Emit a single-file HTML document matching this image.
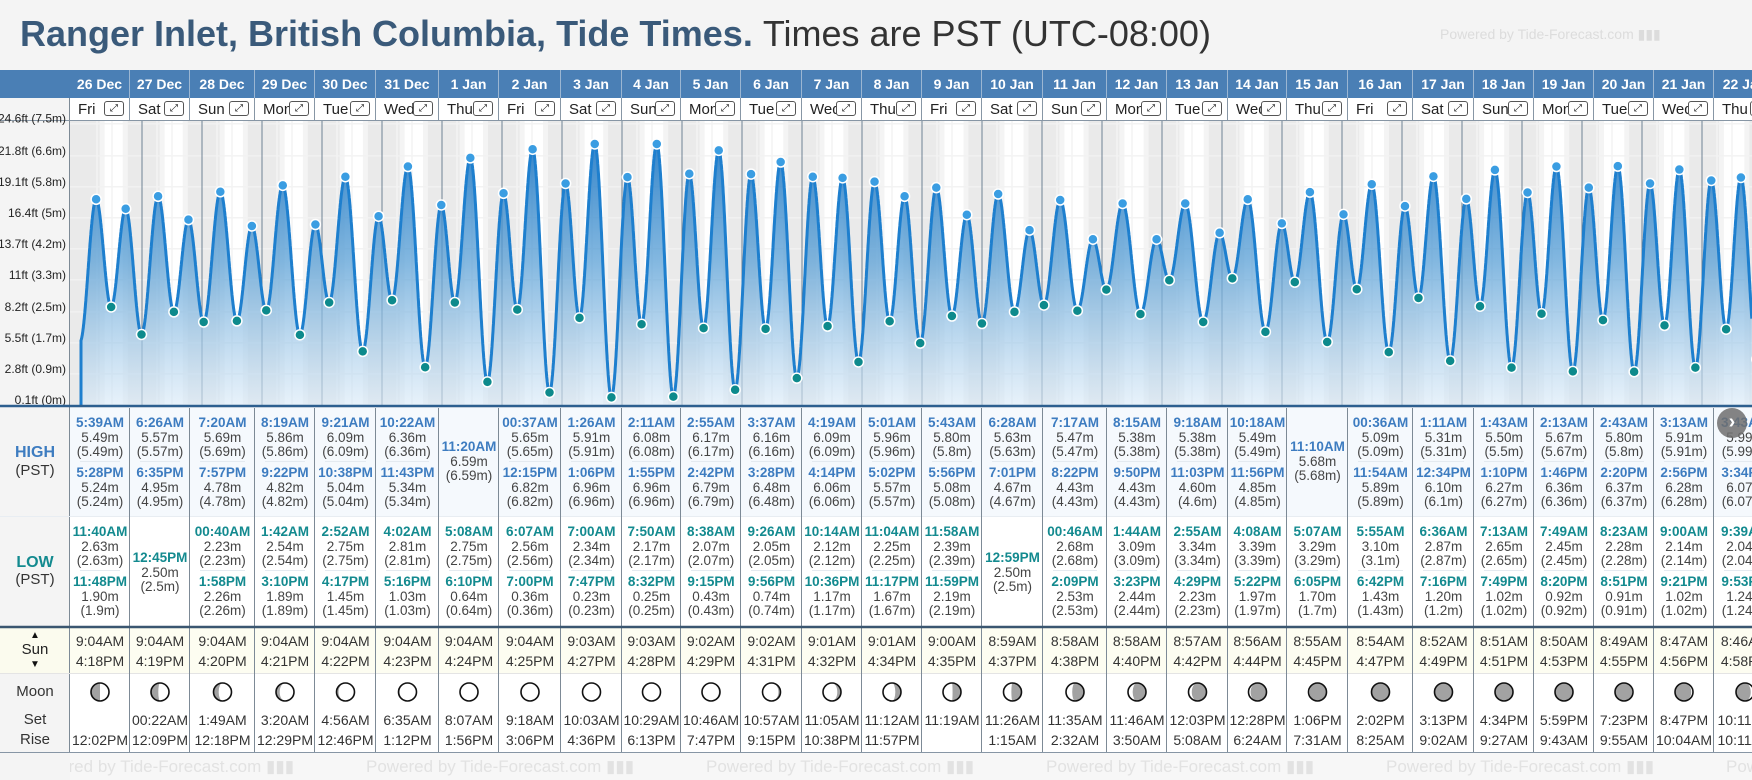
<!DOCTYPE html>
<html><head><meta charset="utf-8">
<style>
body{margin:0;width:1752px;height:780px;overflow:hidden;background:#f4f4f4;font-family:"Liberation Sans",Arial,sans-serif;position:relative}
.a{position:absolute;white-space:nowrap}
.c{position:absolute;text-align:center;white-space:nowrap;font-size:13.5px;line-height:14px;color:#444}
.tH{color:#3d7cc0;font-weight:bold}
.tL{color:#138a8f;font-weight:bold}
</style></head><body>
<div class="a" style="left:20px;top:13px;font-size:36px;color:#3a5a7a;font-weight:bold">Ranger Inlet, British Columbia, Tide Times. <span style="font-weight:normal;color:#333">Times are PST (UTC-08:00)</span></div>
<div class="a" style="left:1440px;top:26px;font-size:14px;color:#dcdcdc">Powered by Tide-Forecast.com ▮▮▮</div>
<svg id="chart" width="1752" height="780" style="position:absolute;left:0;top:0">
<defs>
<linearGradient id="fillg" x1="0" y1="0" x2="0" y2="1">
<stop offset="0" stop-color="#1f78c4" stop-opacity="0.9"/>
<stop offset="0.45" stop-color="#5aa0d6" stop-opacity="0.75"/>
<stop offset="1" stop-color="#d8e9f7" stop-opacity="0.6"/>
</linearGradient>
<clipPath id="clipc"><rect x="70" y="121" width="1682" height="285"/></clipPath>
</defs>
<g id="bg" clip-path="url(#clipc)"></g>
<g id="grid" clip-path="url(#clipc)"></g>
<g id="curve" clip-path="url(#clipc)"></g>
</svg>
<div id="html"></div>
<svg id="overlay" width="1752" height="780" style="position:absolute;left:0;top:0;pointer-events:none">
<g id="ylab"></g>
<g id="moons"></g>
<g id="rules"></g>
</svg>
<script>
// ---- data ----
const days=["26 Dec","27 Dec","28 Dec","29 Dec","30 Dec","31 Dec","1 Jan","2 Jan","3 Jan","4 Jan","5 Jan","6 Jan","7 Jan","8 Jan","9 Jan","10 Jan","11 Jan","12 Jan","13 Jan","14 Jan","15 Jan","16 Jan","17 Jan","18 Jan","19 Jan","20 Jan","21 Jan","22 Jan"];
const weekdays=["Fri","Sat","Sun","Mon","Tue","Wed","Thu","Fri","Sat","Sun","Mon","Tue","Wed","Thu","Fri","Sat","Sun","Mon","Tue","Wed","Thu","Fri","Sat","Sun","Mon","Tue","Wed","Thu"];
const highTimes=[["5:39AM","5:28PM"],["6:26AM","6:35PM"],["7:20AM","7:57PM"],["8:19AM","9:22PM"],["9:21AM","10:38PM"],["10:22AM","11:43PM"],["11:20AM"],["00:37AM","12:15PM"],["1:26AM","1:06PM"],["2:11AM","1:55PM"],["2:55AM","2:42PM"],["3:37AM","3:28PM"],["4:19AM","4:14PM"],["5:01AM","5:02PM"],["5:43AM","5:56PM"],["6:28AM","7:01PM"],["7:17AM","8:22PM"],["8:15AM","9:50PM"],["9:18AM","11:03PM"],["10:18AM","11:56PM"],["11:10AM"],["00:36AM","11:54AM"],["1:11AM","12:34PM"],["1:43AM","1:10PM"],["2:13AM","1:46PM"],["2:43AM","2:20PM"],["3:13AM","2:56PM"],["3:43AM","3:34PM"]];
const highValues=[[5.49,5.24],[5.57,4.95],[5.69,4.78],[5.86,4.82],[6.09,5.04],[6.36,5.34],[6.59],[5.65,6.82],[5.91,6.96],[6.08,6.96],[6.17,6.79],[6.16,6.48],[6.09,6.06],[5.96,5.57],[5.80,5.08],[5.63,4.67],[5.47,4.43],[5.38,4.43],[5.38,4.60],[5.49,4.85],[5.68],[5.09,5.89],[5.31,6.10],[5.50,6.27],[5.67,6.36],[5.80,6.37],[5.91,6.28],[5.99,6.07]];
const lowTimes=[["11:40AM","11:48PM"],["12:45PM"],["00:40AM","1:58PM"],["1:42AM","3:10PM"],["2:52AM","4:17PM"],["4:02AM","5:16PM"],["5:08AM","6:10PM"],["6:07AM","7:00PM"],["7:00AM","7:47PM"],["7:50AM","8:32PM"],["8:38AM","9:15PM"],["9:26AM","9:56PM"],["10:14AM","10:36PM"],["11:04AM","11:17PM"],["11:58AM","11:59PM"],["12:59PM"],["00:46AM","2:09PM"],["1:44AM","3:23PM"],["2:55AM","4:29PM"],["4:08AM","5:22PM"],["5:07AM","6:05PM"],["5:55AM","6:42PM"],["6:36AM","7:16PM"],["7:13AM","7:49PM"],["7:49AM","8:20PM"],["8:23AM","8:51PM"],["9:00AM","9:21PM"],["9:39AM","9:53PM"]];
const lowValues=[[2.63,1.90],[2.50],[2.23,2.26],[2.54,1.89],[2.75,1.45],[2.81,1.03],[2.75,0.64],[2.56,0.36],[2.34,0.23],[2.17,0.25],[2.07,0.43],[2.05,0.74],[2.12,1.17],[2.25,1.67],[2.39,2.19],[2.50],[2.68,2.53],[3.09,2.44],[3.34,2.23],[3.39,1.97],[3.29,1.70],[3.10,1.43],[2.87,1.20],[2.65,1.02],[2.45,0.92],[2.28,0.91],[2.14,1.02],[2.04,1.24]];
const prevDayLowTime="11:10PM", prevDayLowValue=1.70;
const sunrise=["9:04AM","9:04AM","9:04AM","9:04AM","9:04AM","9:04AM","9:04AM","9:04AM","9:03AM","9:03AM","9:02AM","9:02AM","9:01AM","9:01AM","9:00AM","8:59AM","8:58AM","8:58AM","8:57AM","8:56AM","8:55AM","8:54AM","8:52AM","8:51AM","8:50AM","8:49AM","8:47AM","8:46AM"];
const sunset=["4:18PM","4:19PM","4:20PM","4:21PM","4:22PM","4:23PM","4:24PM","4:25PM","4:27PM","4:28PM","4:29PM","4:31PM","4:32PM","4:34PM","4:35PM","4:37PM","4:38PM","4:40PM","4:42PM","4:44PM","4:45PM","4:47PM","4:49PM","4:51PM","4:53PM","4:55PM","4:56PM","4:58PM"];
const moonSet=["","00:22AM","1:49AM","3:20AM","4:56AM","6:35AM","8:07AM","9:18AM","10:03AM","10:29AM","10:46AM","10:57AM","11:05AM","11:12AM","11:19AM","11:26AM","11:35AM","11:46AM","12:03PM","12:28PM","1:06PM","2:02PM","3:13PM","4:34PM","5:59PM","7:23PM","8:47PM","10:11PM"];
const moonRise=["12:02PM","12:09PM","12:18PM","12:29PM","12:46PM","1:12PM","1:56PM","3:06PM","4:36PM","6:13PM","7:47PM","9:15PM","10:38PM","11:57PM","","1:15AM","2:32AM","3:50AM","5:08AM","6:24AM","7:31AM","8:25AM","9:02AM","9:27AM","9:43AM","9:55AM","10:04AM","10:11AM"];
const moonPhase=[0.25,0.28,0.32,0.35,0.39,0.42,0.46,0.50,0.52,0.55,0.58,0.61,0.65,0.69,0.74,0.77,0.80,0.83,0.86,0.89,0.92,0.95,0.97,0.99,0.03,0.07,0.10,0.14];
const yTickFt=[0.1,2.8,5.5,8.2,11,13.7,16.4,19.1,21.8,24.6];
const yTickLabels=["0.1ft (0m)","2.8ft (0.9m)","5.5ft (1.7m)","8.2ft (2.5m)","11ft (3.3m)","13.7ft (4.2m)","16.4ft (5m)","19.1ft (5.8m)","21.8ft (6.6m)","24.6ft (7.5m)"];

// ---- layout ----
const colEdges=[70,130,190,255,315,376,439,499,561,622,681,741,802,862,922,982,1043,1107,1167,1228,1287,1348,1413,1474,1534,1594,1654,1714,1776];
const NS="http://www.w3.org/2000/svg";
const X=t=>82+t*2.5;
const Y=m=>406-m*37.65;
function hrs(s){const m=s.match(/(\d+):(\d+)(AM|PM)/);let h=+m[1]%12;if(m[3]=="PM")h+=12;return h+(+m[2])/60;}
function S(tag,attrs,parent){const e=document.createElementNS(NS,tag);for(const k in attrs)e.setAttribute(k,attrs[k]);parent.appendChild(e);return e;}
const html=document.getElementById('html');
function D(style,text,cls){const d=document.createElement('div');d.className=cls||'a';d.setAttribute('style',style);if(text!==undefined)d.textContent=text;html.appendChild(d);return d;}

const bg=document.getElementById('bg');
S('rect',{x:70,y:121,width:1682,height:285,fill:'#eaeaea'},bg);
for(let i=-1;i<=28;i++){const k=Math.max(0,Math.min(27,i));
 const r=X(i*24+hrs(sunrise[k])), s=X(i*24+hrs(sunset[k]));
 S('rect',{x:r-5,y:121,width:s-r+10,height:285,fill:'#f4f4f4'},bg);
 const dr=S('rect',{x:r,y:121,width:s-r,height:285,fill:'#ffffff'},bg);
 
 
}
const grid=document.getElementById('grid');
yTickFt.forEach(f=>{const y=Y(f/3.2808);S('line',{x1:70,x2:1752,y1:y,y2:y,stroke:'#f2f2f2','stroke-width':1.5,opacity:0.9},grid);});
for(let i=0;i<29;i++){for(let q=1;q<4;q++){const x=X(i*24+q*6);S('line',{x1:x,x2:x,y1:121,y2:406,stroke:'#f3f3f3','stroke-width':1.5},grid);}}
for(let i=1;i<29;i++){const x=X(i*24);const l=S('line',{x1:x,x2:x,y1:121,y2:406,stroke:'#6f8294','stroke-width':1},grid);
 
 }

const ext=[{t:hrs(prevDayLowTime)-24,v:prevDayLowValue,hi:false}];
days.forEach((d,i)=>{highTimes[i].forEach((tm,j)=>ext.push({t:i*24+hrs(tm),v:highValues[i][j],hi:true}));
 lowTimes[i].forEach((tm,j)=>ext.push({t:i*24+hrs(tm),v:lowValues[i][j],hi:false}));});
ext.sort((a,b)=>a.t-b.t);
function h(t){for(let k=0;k<ext.length-1;k++){const a=ext[k],b=ext[k+1];if(t>=a.t&&t<=b.t){const f=(t-a.t)/(b.t-a.t);return a.v+(b.v-a.v)*(1-Math.cos(Math.PI*f))/2;}}return ext[ext.length-1].v;}
const cv=document.getElementById('curve');
const t0=-0.4, t1=(1752-82)/2.5;
let pts=[];for(let t=t0;t<=t1;t+=0.1)pts.push([X(t),Y(h(t))]);
const lineD='M'+pts.map(p=>p[0].toFixed(1)+','+p[1].toFixed(1)).join('L');
const area=S('path',{d:lineD+`L${pts[pts.length-1][0]},406L${X(t0)},406Z`,fill:'url(#fillg)'},cv);


const ln=S('path',{d:`M${X(t0)},406L`+lineD.slice(1),fill:'none',stroke:'#1e7fce','stroke-width':3,'stroke-linejoin':'round'},cv);


ext.forEach(e=>{if(e.t<0)return;const c=S('circle',{cx:X(e.t),cy:Y(e.v),r:5,fill:e.hi?'#3a9de2':'#0d8a8c',stroke:'#fff','stroke-width':1.5},cv);
 
 });

D('left:0;top:121px;width:70px;height:631px;background:#f4f4f4;border-right:1px solid #7d8a96;box-sizing:border-box');
D('left:0;top:628px;width:70px;height:45px;background:#fbfbee;border-right:1px solid #7d8a96;box-sizing:border-box');
D('left:0;top:70px;width:1752px;height:28px;background:#4a7fb5');
D('left:0;top:98px;width:1752px;height:23px;background:#fff;border-bottom:1px solid #8796a5;box-sizing:border-box');
D('left:0;top:98px;width:70px;height:23px;background:#f4f4f4;border-right:1px solid #7d8a96;border-bottom:1px solid #8796a5;box-sizing:border-box');
D('left:70px;top:408px;width:1682px;height:109px;background:#f5f9fd');
D('left:70px;top:517px;width:1682px;height:109px;background:#fff');
D('left:70px;top:628px;width:1682px;height:45px;background:#fdfdf1');
D('left:70px;top:673px;width:1682px;height:79px;background:#fff');
D('left:0;top:516px;width:1752px;height:1px;background:#e8edf2');
D('left:0;top:673px;width:1752px;height:1px;background:#e4e4e4');
D('left:0;top:752px;width:1752px;height:1px;background:#8796a5');
D('left:0;top:444px;width:70px;text-align:center;font-size:16px;font-weight:bold;color:#3d7cc0','HIGH');
D('left:0;top:462px;width:70px;text-align:center;font-size:15px;color:#333','(PST)');
D('left:0;top:554px;width:70px;text-align:center;font-size:16px;font-weight:bold;color:#138a8f','LOW');
D('left:0;top:571px;width:70px;text-align:center;font-size:15px;color:#333','(PST)');
D('left:0;top:630px;width:70px;text-align:center;font-size:10px;color:#111','▲');
D('left:0;top:641px;width:70px;text-align:center;font-size:15px;color:#222','Sun');
D('left:0;top:659px;width:70px;text-align:center;font-size:10px;color:#111','▼');
D('left:0;top:683px;width:70px;text-align:center;font-size:15px;color:#333','Moon');
D('left:0;top:711px;width:70px;text-align:center;font-size:15px;color:#333','Set');
D('left:0;top:731px;width:70px;text-align:center;font-size:15px;color:#333','Rise');

const yl=document.getElementById('ylab');
yTickFt.forEach((f,i)=>{const t=S('text',{x:66,y:Y(f/3.2808)-1,'text-anchor':'end','font-size':12,fill:'#222','font-family':'Liberation Sans, sans-serif'},yl);t.textContent=yTickLabels[i];
 
 });
const rules=document.getElementById('rules');
S('line',{x1:0,x2:1752,y1:406,y2:406,stroke:'#2d5f8f','stroke-width':2.5},rules);
S('line',{x1:0,x2:1752,y1:627,y2:627,stroke:'#3a5670','stroke-width':2.5},rules);

const moons=document.getElementById('moons');
function moonIcon(cx,cy,p){const r=9;const g=S('g',{},moons);
 
 
 S('circle',{cx,cy,r,fill:'#a2a2a2'},g);
 const wax=p<0.5, rx=r*Math.abs(Math.cos(2*Math.PI*p)), gib=p>0.25&&p<0.75;
 let s1=wax?1:0, s2=wax?(gib?1:0):(gib?0:1);
 S('path',{d:`M${cx},${cy-r}A${r},${r} 0 0 ${s1} ${cx},${cy+r}A${rx},${r} 0 0 ${s2} ${cx},${cy-r}Z`,fill:'#fff'},g);
 S('circle',{cx,cy,r,fill:'none',stroke:'#111','stroke-width':1.6},g);}
days.forEach((d,i)=>{const x0=colEdges[i],w=colEdges[i+1]-x0,cx=x0+w/2;
 D(`left:${x0}px;top:70px;width:${w}px;height:28px;border-right:1px solid #9bb6d2;box-sizing:border-box;text-align:center;line-height:28px;color:#fff;font-weight:bold;font-size:14px`,d);
 D(`left:${x0}px;top:98px;width:${w}px;height:23px;border-right:1px solid #8796a5;box-sizing:border-box`);
 D(`left:${x0+8}px;top:101px;font-size:15px;color:#222`,weekdays[i]);
 const ic=D(`left:${x0+w-26}px;top:101px;width:20px;height:15px;border:1px solid #555;border-radius:3px;box-sizing:border-box;font-size:10px;line-height:13px;text-align:center;color:#111;background:#fff`,'⤢');
 
 D(`left:${x0}px;top:408px;width:${w}px;height:344px;border-right:1px solid #7d8a96;box-sizing:border-box`);
 function block(times,vals,top,mid,cls){
  const n=times.length;
  times.forEach((tm,j)=>{const base=n==1?mid-22:top+j*50;
   D(`left:${x0}px;top:${base}px;width:${w}px;font-size:13.5px`,tm,'c '+cls);
   D(`left:${x0}px;top:${base+15}px;width:${w}px`,vals[j].toFixed(2)+'m','c');
   D(`left:${x0}px;top:${base+29}px;width:${w}px`,'('+(+vals[j].toFixed(2))+'m)','c');});
  if(n==2)D(`left:${x0+10}px;top:${top+45}px;width:${w-20}px;height:1px;background:#e4eaf0`);}
 block(highTimes[i],highValues[i],416,462,'tH');
 block(lowTimes[i],lowValues[i],525,573,'tL');
 D(`left:${x0}px;top:634px;width:${w}px;font-size:14px;color:#333`,sunrise[i],'c');
 D(`left:${x0}px;top:654px;width:${w}px;font-size:14px;color:#333`,sunset[i],'c');
 moonIcon(cx,692,moonPhase[i]);
 D(`left:${x0}px;top:713px;width:${w}px;font-size:14px;color:#333`,moonSet[i],'c');
 D(`left:${x0}px;top:733px;width:${w}px;font-size:14px;color:#333`,moonRise[i],'c');
});
const foot=D('left:70px;top:753px;width:1682px;height:27px;overflow:hidden;background:#f7f7f7');

[26,366,706,1046,1386,1726].forEach(x=>{const f=document.createElement('div');f.className='a';f.setAttribute('style',`left:${x-70}px;top:4px;font-size:17px;color:#e2e2e2`);f.textContent='Powered by Tide-Forecast.com ▮▮▮';
 
 
 foot.appendChild(f);});
const nb=D('left:1717px;top:408px;width:30px;height:30px;border-radius:15px;background:rgba(110,110,110,0.85);color:#fff;font-size:20px;font-weight:bold;line-height:29px;text-align:center;z-index:5','›');

</script>
</body></html>
